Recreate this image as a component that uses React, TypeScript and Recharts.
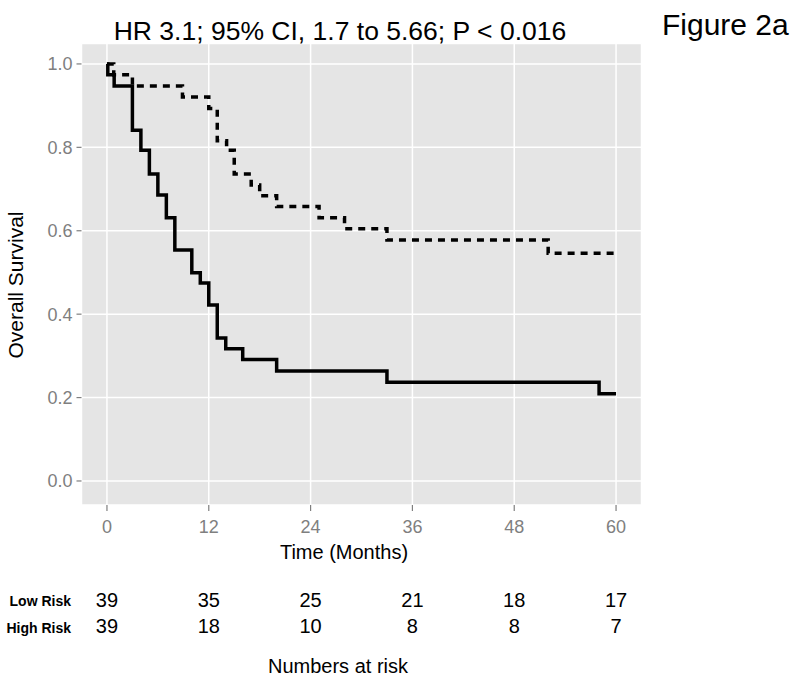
import React from "react";
import { LineChart, Line, XAxis, YAxis, CartesianGrid } from "recharts";

// ---- data ----
const lowRiskTimes = [0, 0.8, 3, 8.9, 12, 13, 14.1, 15, 17, 18, 20, 25, 28, 33, 52, 60];
const lowRiskSurv = [1.0, 0.974, 0.947, 0.921, 0.893, 0.816, 0.793, 0.736, 0.71, 0.684, 0.658, 0.631, 0.605, 0.578, 0.546, 0.546];
const highRiskTimes = [0, 0.1, 0.85, 3, 4, 5, 6, 7, 8, 10, 11, 12, 13, 14, 16, 20, 33, 58, 60];
const highRiskSurv = [1.0, 0.974, 0.947, 0.841, 0.793, 0.736, 0.686, 0.631, 0.554, 0.499, 0.475, 0.422, 0.343, 0.317, 0.291, 0.264, 0.237, 0.209, 0.209];

const xTicks = [0, 12, 24, 36, 48, 60];
const yTicks = [0, 0.2, 0.4, 0.6, 0.8, 1.0];
const riskTimes = [0, 12, 24, 36, 48, 60];
const lowRiskCounts = [39, 35, 25, 21, 18, 17];
const highRiskCounts = [39, 18, 10, 8, 8, 7];

const titleText = "HR 3.1; 95% CI, 1.7 to 5.66; P < 0.016";
const figureLabel = "Figure 2a";

const lowData = lowRiskTimes.map((t, i) => ({ t, s: lowRiskSurv[i] }));
const highData = highRiskTimes.map((t, i) => ({ t, s: highRiskSurv[i] }));

// ---- layout ----
const W = 800;
const H = 678;
const plotLeft = 81.5;
const plotRight = 641.5;
const plotTop = 43.5;
const plotBottom = 505;
const xAxisH = 30;
const xDomain: [number, number] = [-3, 63];
const yDomain: [number, number] = [-0.0576, 1.049];
const FONT = "'Liberation Sans', Arial, Helvetica, sans-serif";
const GREY = "#7F7F7F";

const xPix = (t: number) =>
  plotLeft + ((t - xDomain[0]) / (xDomain[1] - xDomain[0])) * (plotRight - plotLeft);

export default function App() {
  return (
    <div style={{ position: "absolute", left: 0, top: 0, width: W, height: H, background: "#fff" }}>
      <LineChart
        width={W}
        height={H}
        margin={{ top: plotTop, right: W - plotRight, bottom: H - plotBottom - xAxisH, left: 0 }}
      >
        <CartesianGrid fill="#E5E5E5" stroke="#FFFFFF" strokeWidth={1.5} />
        <XAxis
          type="number"
          dataKey="t"
          domain={xDomain}
          allowDataOverflow
          ticks={xTicks}
          interval={0}
          height={xAxisH}
          axisLine={false}
          tickLine={{ stroke: GREY, strokeWidth: 1.2 }}
          tickSize={6}
          tickMargin={9}
          tick={{ fill: GREY, fontSize: 18, fontFamily: FONT }}
        />
        <YAxis
          type="number"
          domain={yDomain}
          allowDataOverflow
          ticks={yTicks}
          interval={0}
          width={plotLeft}
          axisLine={false}
          tickLine={{ stroke: GREY, strokeWidth: 1.2 }}
          tickSize={5}
          tickMargin={4}
          tickFormatter={(v: number) => v.toFixed(1)}
          tick={{ fill: GREY, fontSize: 18, fontFamily: FONT }}
        />
        <Line
          data={lowData}
          dataKey="s"
          type="stepAfter"
          stroke="#000"
          strokeWidth={3.5}
          strokeDasharray="7 6"
          dot={false}
          activeDot={false}
          isAnimationActive={false}
        />
        <Line
          data={highData}
          dataKey="s"
          type="stepAfter"
          stroke="#000"
          strokeWidth={3.5}
          dot={false}
          activeDot={false}
          isAnimationActive={false}
        />
      </LineChart>
      <svg
        width={W}
        height={H}
        style={{ position: "absolute", left: 0, top: 0, pointerEvents: "none" }}
        fontFamily={FONT}
      >
        <text x={340} y={40} fontSize={26.5} textAnchor="middle" fill="#000">
          {titleText}
        </text>
        <text x={662} y={35} fontSize={30} textAnchor="start" fill="#000">
          {figureLabel}
        </text>
        <text
          x={0}
          y={0}
          fontSize={21}
          textAnchor="middle"
          fill="#000"
          transform={`translate(23, 285) rotate(-90)`}
        >
          Overall Survival
        </text>
        <text x={344} y={559} fontSize={20} textAnchor="middle" fill="#000">
          Time (Months)
        </text>
        <text x={71} y={606} fontSize={14} fontWeight="bold" textAnchor="end" fill="#000">
          Low Risk
        </text>
        <text x={71} y={632.5} fontSize={14} fontWeight="bold" textAnchor="end" fill="#000">
          High Risk
        </text>
        {riskTimes.map((t, i) => (
          <text key={"l" + i} x={xPix(t)} y={607} fontSize={20} textAnchor="middle" fill="#000">
            {lowRiskCounts[i]}
          </text>
        ))}
        {riskTimes.map((t, i) => (
          <text key={"h" + i} x={xPix(t)} y={632.7} fontSize={20} textAnchor="middle" fill="#000">
            {highRiskCounts[i]}
          </text>
        ))}
        <text x={338} y={672.5} fontSize={20} textAnchor="middle" fill="#000">
          Numbers at risk
        </text>
      </svg>
    </div>
  );
}
